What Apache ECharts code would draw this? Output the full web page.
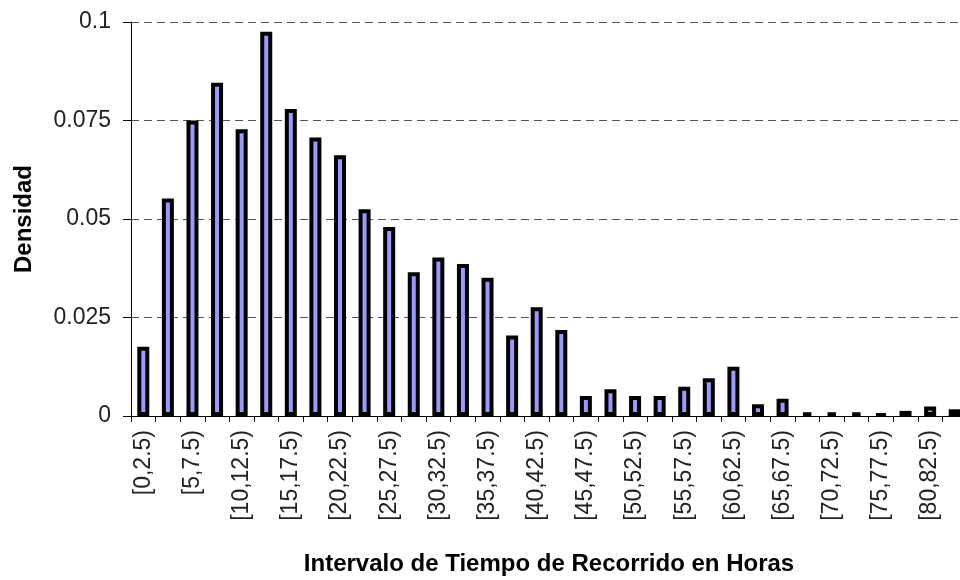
<!DOCTYPE html>
<html>
<head>
<meta charset="utf-8">
<script src="https://cdn.jsdelivr.net/npm/echarts@6/dist/echarts.min.js"></script>
<style>
  html, body { margin: 0; padding: 0; background: #fff; }
  #chart { width: 960px; height: 580px; }
</style>
</head>
<body>
<div id="chart"></div>
<script>
// interval categories (2.5 h wide)
const intervals = [
  '[0,2.5)', '[2.5,5)', '[5,7.5)', '[7.5,10)', '[10,12.5)', '[12.5,15)',
  '[15,17.5)', '[17.5,20)', '[20,22.5)', '[22.5,25)', '[25,27.5)', '[27.5,30)',
  '[30,32.5)', '[32.5,35)', '[35,37.5)', '[37.5,40)', '[40,42.5)', '[42.5,45)',
  '[45,47.5)', '[47.5,50)', '[50,52.5)', '[52.5,55)', '[55,57.5)', '[57.5,60)',
  '[60,62.5)', '[62.5,65)', '[65,67.5)', '[67.5,70)', '[70,72.5)', '[72.5,75)',
  '[75,77.5)', '[77.5,80)', '[80,82.5)', '[82.5,85)'
]

// density per interval
const densidad = [
  0.0176, 0.0552, 0.0750, 0.0846, 0.0728, 0.0975, 0.0779, 0.0707,
  0.0662, 0.0525, 0.0480, 0.0365, 0.0402, 0.0386, 0.0351, 0.0204,
  0.0276, 0.0218, 0.0051, 0.0068, 0.0051, 0.0051, 0.0074, 0.0096,
  0.0125, 0.0030, 0.0044, 0.0009, 0.0009, 0.0009, 0.0005, 0.0013,
  0.0024, 0.0017
]

const yTicks = { min: 0, max: 0.1, step: 0.025 }

const chart = echarts.init(document.getElementById('chart'))

chart.setOption({
  backgroundColor: '#fff',
  animation: false,
  textStyle: { fontFamily: 'Liberation Sans, Arial, sans-serif' },
  // plot runs past the right edge, last bar is cut like in the original
  grid: { left: 131, top: 22, bottom: 164, width: 836, outerBoundsMode: 'none', containLabel: false },
  xAxis: {
    type: 'category',
    data: intervals,
    boundaryGap: true,
    name: 'Intervalo de Tiempo de Recorrido en Horas',
    nameLocation: 'middle',
    nameGap: 136,
    nameTextStyle: { fontSize: 24, fontWeight: 'bold', color: '#000' },
    axisLine: { lineStyle: { color: '#000', width: 1 } },
    axisTick: { show: true, interval: 0, length: 6, lineStyle: { color: '#000' } },
    axisLabel: { interval: 1, rotate: 90, fontSize: 23, color: '#222', margin: 14 },
    splitLine: { show: false }
  },
  yAxis: {
    type: 'value',
    min: yTicks.min,
    max: yTicks.max,
    interval: yTicks.step,
    name: 'Densidad',
    nameLocation: 'middle',
    nameGap: 95,
    nameTextStyle: { fontSize: 24, fontWeight: 'bold', color: '#000' },
    axisLine: { show: true, lineStyle: { color: '#000', width: 1 } },
    axisTick: { show: true, length: 8, lineStyle: { color: '#000' } },
    axisLabel: { fontSize: 23, color: '#222', margin: 20 },
    splitLine: { show: true, lineStyle: { color: '#555', width: 1, type: [8, 5] } }
  },
  series: [{
    type: 'bar',
    data: densidad,
    barWidth: 12,
    itemStyle: { color: '#9999ff', borderColor: '#000', borderWidth: 4 }
  }]
})
</script>
</body>
</html>
